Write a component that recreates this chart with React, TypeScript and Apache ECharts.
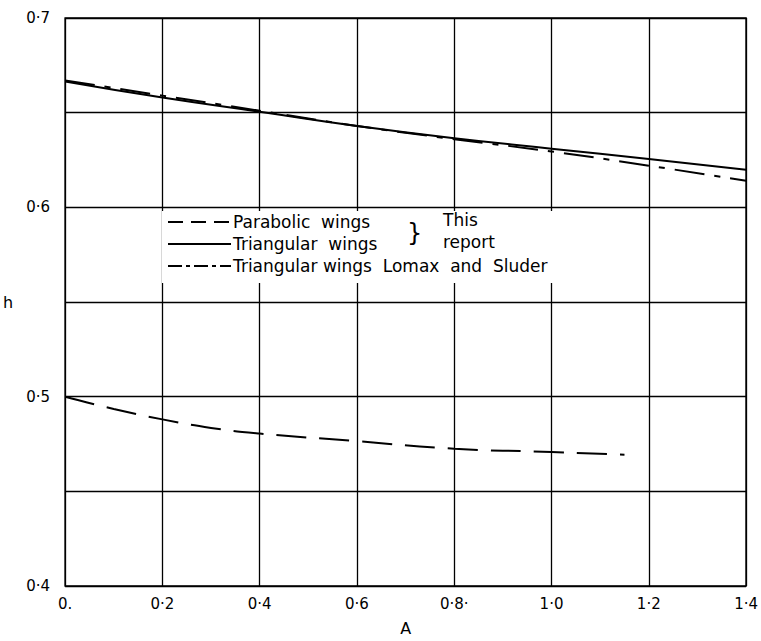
import React, { useEffect, useRef } from "react";
import * as echarts from "echarts";

const xTickLabels: Record<string, string> = {
  "0": "0.", "0.2": "0·2", "0.4": "0·4", "0.6": "0·6", "0.8": "0·8·", "1": "1·0", "1.2": "1·2", "1.4": "1·4",
};
const yTickLabels: Record<string, string> = { "0.4": "0·4", "0.5": "0·5", "0.6": "0·6", "0.7": "0·7" };

const parabolic: [number, number][] = [
  [0, 0.5], [0.1, 0.4935], [0.2, 0.488], [0.3, 0.4835], [0.4, 0.4805], [0.6, 0.4765],
  [0.8, 0.4725], [1.0, 0.4708], [1.15, 0.4693],
];
const triangular: [number, number][] = [
  [0, 0.6665], [0.2, 0.658], [0.4, 0.6505], [0.6, 0.643], [0.8, 0.6365], [1.0, 0.631],
  [1.2, 0.6255], [1.4, 0.6198],
];
const lomax: [number, number][] = [
  [0, 0.667], [0.2, 0.659], [0.4, 0.651], [0.6, 0.643], [0.8, 0.636], [1.0, 0.6295],
  [1.2, 0.622], [1.4, 0.614],
];

const FONT = "DejaVu Sans";

export default function App() {
  const ref = useRef<HTMLDivElement>(null);
  useEffect(() => {
    const chart = echarts.init(ref.current!, null, { renderer: "svg" });
    const key = (v: number) => String(Math.round(v * 100) / 100);
    chart.setOption({
      animation: false,
      backgroundColor: "#fff",
      grid: { left: 65, right: 4, top: 18, bottom: 49, show: true, borderColor: "#000", borderWidth: 1.5, backgroundColor: "transparent" },
      xAxis: {
        type: "value", min: 0, max: 1.4, interval: 0.2,
        name: "A", nameLocation: "middle", nameGap: 34,
        nameTextStyle: { fontFamily: FONT, fontSize: 16, color: "#000" },
        axisLine: { show: false }, axisTick: { show: false },
        axisLabel: {
          fontFamily: FONT, fontSize: 15, color: "#000", margin: 10,
          formatter: (v: number) => xTickLabels[key(v)] ?? "",
        },
        splitLine: { show: true, lineStyle: { color: "#000", width: 1.3 } },
      },
      yAxis: {
        type: "value", min: 0.4, max: 0.7, interval: 0.05,
        name: "h", nameLocation: "middle", nameGap: 52, nameRotate: 0,
        nameTextStyle: { fontFamily: FONT, fontSize: 16, color: "#000" },
        axisLine: { show: false }, axisTick: { show: false },
        axisLabel: {
          fontFamily: FONT, fontSize: 15, color: "#000", margin: 15,
          formatter: (v: number) => yTickLabels[key(v)] ?? "",
        },
        splitLine: { show: true, lineStyle: { color: "#000", width: 1.3 } },
      },
      series: [
        { type: "line", data: parabolic, smooth: true, symbol: "none", lineStyle: { color: "#000", width: 2, type: [30, 13] }, z: 3 },
        { type: "line", data: triangular, smooth: true, symbol: "none", lineStyle: { color: "#000", width: 2 }, z: 3 },
        { type: "line", data: lomax, smooth: true, symbol: "none", lineStyle: { color: "#000", width: 2, type: [30, 10, 6, 10] }, z: 3 },
      ],
      graphic: [
        { type: "rect", shape: { x: 162, y: 211, width: 395, height: 72 }, style: { fill: "#fff" }, z: 10 },
        { type: "line", shape: { x1: 168, y1: 222, x2: 231, y2: 222 }, style: { stroke: "#000", lineWidth: 2, lineDash: [15, 8] }, z: 11 },
        { type: "line", shape: { x1: 168, y1: 244, x2: 231, y2: 244 }, style: { stroke: "#000", lineWidth: 2 }, z: 11 },
        { type: "line", shape: { x1: 168, y1: 266, x2: 231, y2: 266 }, style: { stroke: "#000", lineWidth: 2, lineDash: [14, 4, 4, 4] }, z: 11 },
        { type: "text", x: 233, y: 222, style: { text: "Parabolic  wings", font: `17px ${FONT}`, fill: "#000", verticalAlign: "middle" }, z: 11 },
        { type: "text", x: 233, y: 244, style: { text: "Triangular  wings", font: `17px ${FONT}`, fill: "#000", verticalAlign: "middle" }, z: 11 },
        { type: "text", x: 233, y: 266, style: { text: "Triangular wings  Lomax  and  Sluder", font: `17px ${FONT}`, fill: "#000", verticalAlign: "middle" }, z: 11 },
        { type: "text", x: 407, y: 233, style: { text: "}", font: `24px ${FONT}`, fill: "#000", verticalAlign: "middle" }, z: 11 },
        { type: "text", x: 443, y: 220, style: { text: "This", font: `17px ${FONT}`, fill: "#000", verticalAlign: "middle" }, z: 11 },
        { type: "text", x: 443, y: 242, style: { text: "report", font: `17px ${FONT}`, fill: "#000", verticalAlign: "middle" }, z: 11 },
      ],
    });
    return () => chart.dispose();
  }, []);
  return <div ref={ref} style={{ width: 761, height: 641, position: "absolute", left: 0, top: 0 }} />;
}
